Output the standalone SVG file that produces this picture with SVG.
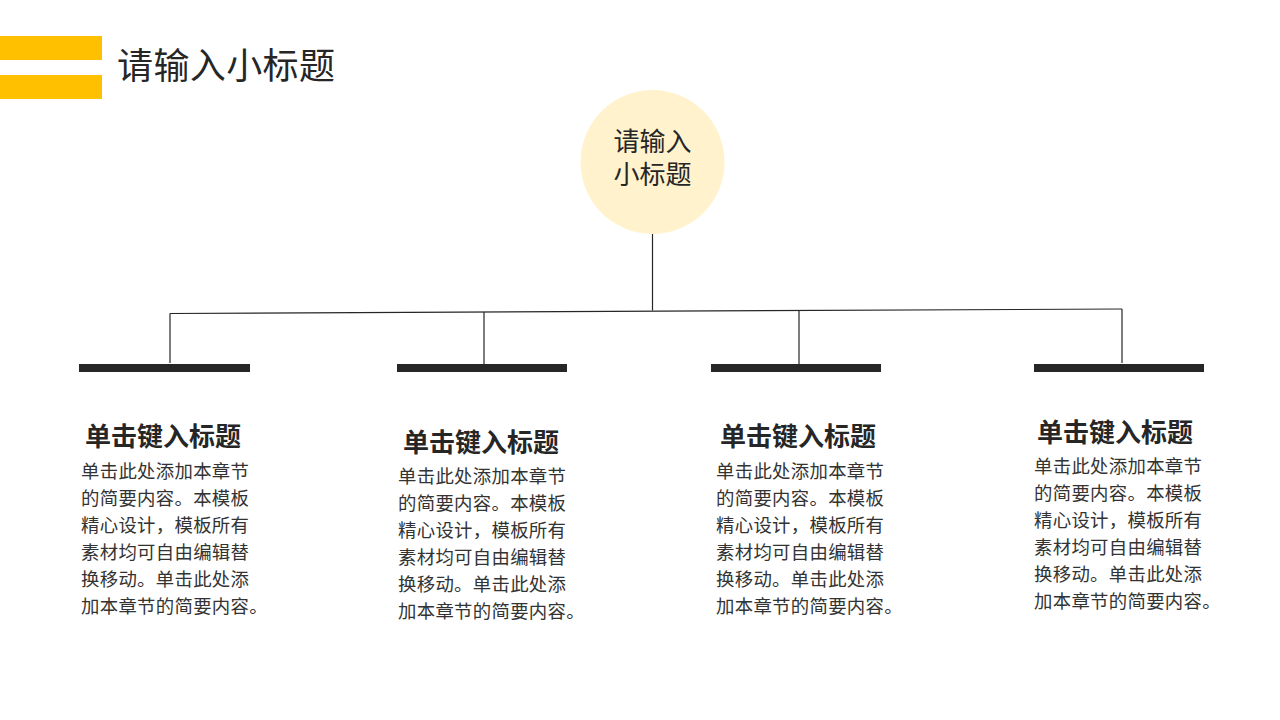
<svg xmlns="http://www.w3.org/2000/svg" width="1280" height="720" viewBox="0 0 1280 720">
<style>
.cjk{font-family:"Noto Sans CJK SC","Noto Sans",sans-serif;}
.head{font-size:36px;fill:#262626;letter-spacing:0.4px;}
.ctext{font-size:26px;fill:#262626;text-anchor:middle;}
.ttl{font-size:26px;font-weight:bold;fill:#262626;}
.body{font-size:18.4px;fill:#333333;letter-spacing:0.3px;}
.bar{fill:#262626;}
.conn{stroke:#262626;stroke-width:1.2;fill:none;}
</style>
<rect width="1280" height="720" fill="#ffffff"/>
<g id="header">
<rect x="0" y="36" width="102" height="24" fill="#FFC000"/>
<rect x="0" y="75" width="102" height="24" fill="#FFC000"/>
<text class="cjk head" x="117" y="79">请输入小标题</text>
</g>
<g id="connectors">
<line class="conn" x1="652.5" y1="222" x2="652.5" y2="310.5"/>
<line class="conn" x1="170" y1="313.5" x2="1122" y2="309"/>
<line class="conn" x1="170" y1="313.5" x2="170" y2="363"/>
<line class="conn" x1="484" y1="312" x2="484" y2="364"/>
<line class="conn" x1="799" y1="310.5" x2="799" y2="364"/>
<line class="conn" x1="1122" y1="309" x2="1122" y2="363"/>
</g>
<g id="root">
<circle cx="652.5" cy="162" r="72" fill="#FFF2CC"/>
<text class="cjk ctext" x="652.5" y="151">请输入<tspan x="652.5" dy="33">小标题</tspan></text>
</g>
<g id="card1">
<rect class="bar" x="79" y="364" width="171" height="8"/>
<text class="cjk ttl" x="85" y="446">单击键入标题</text>
<text class="cjk body" x="81" y="478">单击此处添加本章节</text>
<text class="cjk body" x="81" y="505">的简要内容。本模板</text>
<text class="cjk body" x="81" y="532">精心设计，模板所有</text>
<text class="cjk body" x="81" y="559">素材均可自由编辑替</text>
<text class="cjk body" x="81" y="586">换移动。单击此处添</text>
<text class="cjk body" x="81" y="613">加本章节的简要内容。</text>
</g>
<g id="card2">
<rect class="bar" x="397" y="364" width="170" height="8"/>
<text class="cjk ttl" x="403" y="452">单击键入标题</text>
<text class="cjk body" x="398" y="483">单击此处添加本章节</text>
<text class="cjk body" x="398" y="510">的简要内容。本模板</text>
<text class="cjk body" x="398" y="537">精心设计，模板所有</text>
<text class="cjk body" x="398" y="564">素材均可自由编辑替</text>
<text class="cjk body" x="398" y="591">换移动。单击此处添</text>
<text class="cjk body" x="398" y="618">加本章节的简要内容。</text>
</g>
<g id="card3">
<rect class="bar" x="711" y="364" width="170" height="8"/>
<text class="cjk ttl" x="720" y="446">单击键入标题</text>
<text class="cjk body" x="716" y="478">单击此处添加本章节</text>
<text class="cjk body" x="716" y="505">的简要内容。本模板</text>
<text class="cjk body" x="716" y="532">精心设计，模板所有</text>
<text class="cjk body" x="716" y="559">素材均可自由编辑替</text>
<text class="cjk body" x="716" y="586">换移动。单击此处添</text>
<text class="cjk body" x="716" y="613">加本章节的简要内容。</text>
</g>
<g id="card4">
<rect class="bar" x="1034" y="364" width="170" height="8"/>
<text class="cjk ttl" x="1037" y="442">单击键入标题</text>
<text class="cjk body" x="1034" y="473">单击此处添加本章节</text>
<text class="cjk body" x="1034" y="500">的简要内容。本模板</text>
<text class="cjk body" x="1034" y="527">精心设计，模板所有</text>
<text class="cjk body" x="1034" y="554">素材均可自由编辑替</text>
<text class="cjk body" x="1034" y="581">换移动。单击此处添</text>
<text class="cjk body" x="1034" y="608">加本章节的简要内容。</text>
</g>
</svg>
